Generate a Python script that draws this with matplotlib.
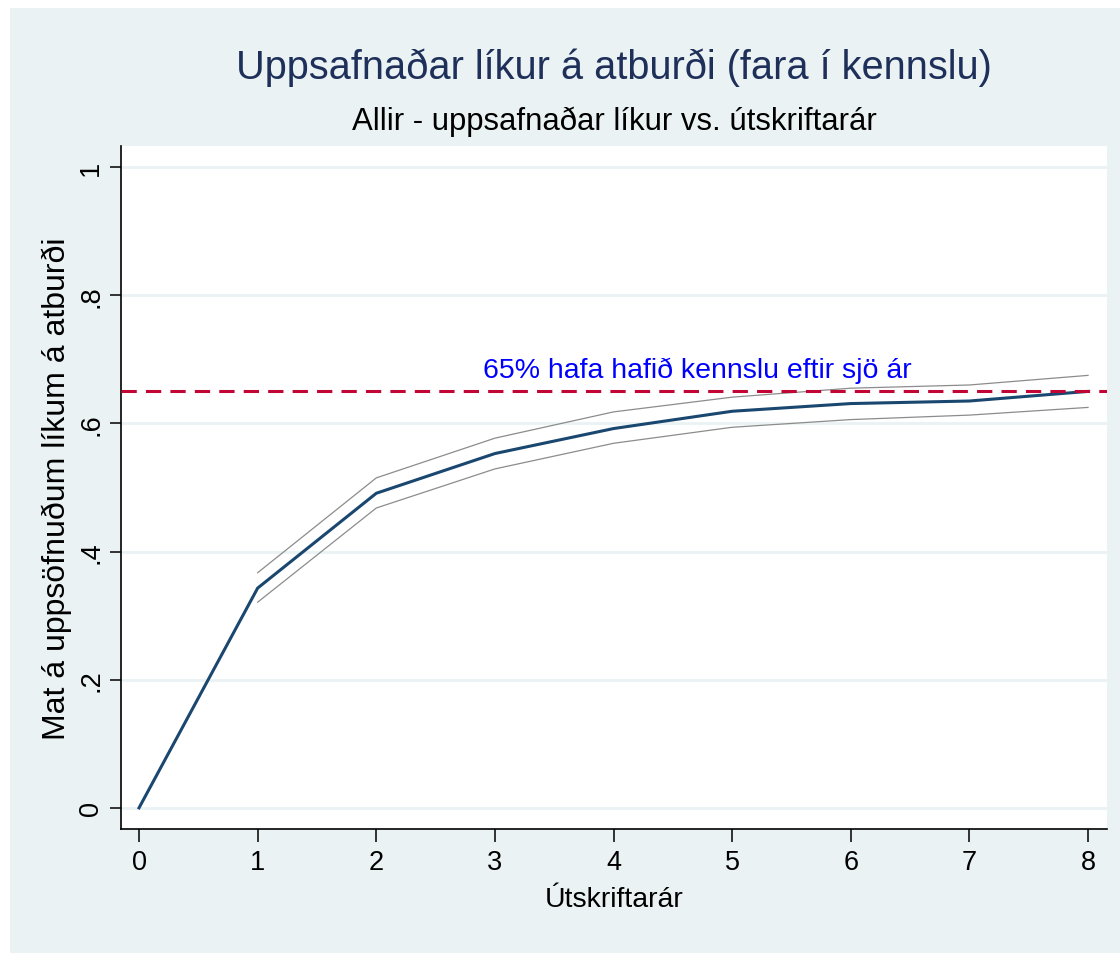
import matplotlib
matplotlib.use("Agg")
import matplotlib.pyplot as plt

# -------------------------------------------------
# Data
# -------------------------------------------------

years = [0, 1, 2, 3, 4, 5, 6, 7, 8]
cum_prob = [0.0, 0.343, 0.491, 0.553, 0.592, 0.619, 0.631, 0.635, 0.650]
ci_upper = [0.0, 0.367, 0.515, 0.577, 0.618, 0.641, 0.655, 0.660, 0.675]
ci_lower = [0.0, 0.321, 0.468, 0.529, 0.569, 0.594, 0.606, 0.613, 0.625]

ref_level = 0.65
ref_text = "65% hafa hafið kennslu eftir sjö ár"

y_ticks = [0, 0.2, 0.4, 0.6, 0.8, 1.0]
y_ticklabels = ["0", ".2", ".4", ".6", ".8", "1"]

# -------------------------------------------------
# Figure
# -------------------------------------------------

plt.rcParams["font.family"] = ["Liberation Sans", "DejaVu Sans"]

W, H = 1120, 954
fig = plt.figure(figsize=(W / 100, H / 100), dpi=100, facecolor="white")

# light blue graph region (Stata s2color look)
bg = fig.add_axes([10 / W, 0, 1 - 10 / W, 1 - 9 / H], zorder=-1)
bg.set_facecolor("#EAF2F3")
bg.set_xticks([])
bg.set_yticks([])
for s in bg.spines.values():
    s.set_visible(False)

left, right, top, bottom = 121, 1107, 147, 830
ax = fig.add_axes([left / W, 1 - bottom / H, (right - left) / W, (bottom - top) / H])
ax.set_facecolor("white")

# confidence bands (lines only)
ax.plot(years[1:], ci_upper[1:], color="#8c8c8c", linewidth=0.9, zorder=3)
ax.plot(years[1:], ci_lower[1:], color="#8c8c8c", linewidth=0.9, zorder=3)

# estimate
ax.plot(years, cum_prob, color="#1a476f", linewidth=2.2, zorder=4)

# reference line + note
ax.axhline(ref_level, color="#c10534", linewidth=2.2, linestyle=(0, (5, 3)), zorder=5)
ax.text(4.71, 0.684, ref_text, color="#0000ff", fontsize=20.5, ha="center", va="center")

ax.set_xlim(-0.152, 8.16)
ax.set_ylim(-0.033, 1.033)

ax.set_xticks(years)
ax.set_yticks(y_ticks)
ax.set_yticklabels(y_ticklabels, rotation=90, va="center")

ax.grid(True, axis="y", color="#EAF2F3", linewidth=2, zorder=1)
ax.set_axisbelow(True)

for side in ["top", "right"]:
    ax.spines[side].set_visible(False)
for side in ["left", "bottom"]:
    ax.spines[side].set_linewidth(1.2)
    ax.spines[side].set_color("black")

ax.tick_params(axis="x", direction="out", length=9.5, width=1.1, labelsize=19.5, pad=5)
ax.tick_params(axis="y", direction="out", length=8, width=1.1, labelsize=19.5, pad=4)

ax.set_xlabel("Útskriftarár", fontsize=20.5, va="center")
ax.xaxis.set_label_coords(0.5, -0.102)
ax.set_ylabel("Mat á uppsöfnuðum líkum á atburði", fontsize=23, va="center")
ax.yaxis.set_label_coords(-0.0654, 0.5)

fig.text(614 / W, 1 - 68 / H, "Uppsafnaðar líkur á atburði (fara í kennslu)",
         color="#1e2f5a", fontsize=28.6, ha="center", va="center")
fig.text(614 / W, 1 - 122 / H, "Allir - uppsafnaðar líkur vs. útskriftarár",
         color="black", fontsize=22.4, ha="center", va="center")

fig.savefig("out.png", dpi=100, facecolor="white")
